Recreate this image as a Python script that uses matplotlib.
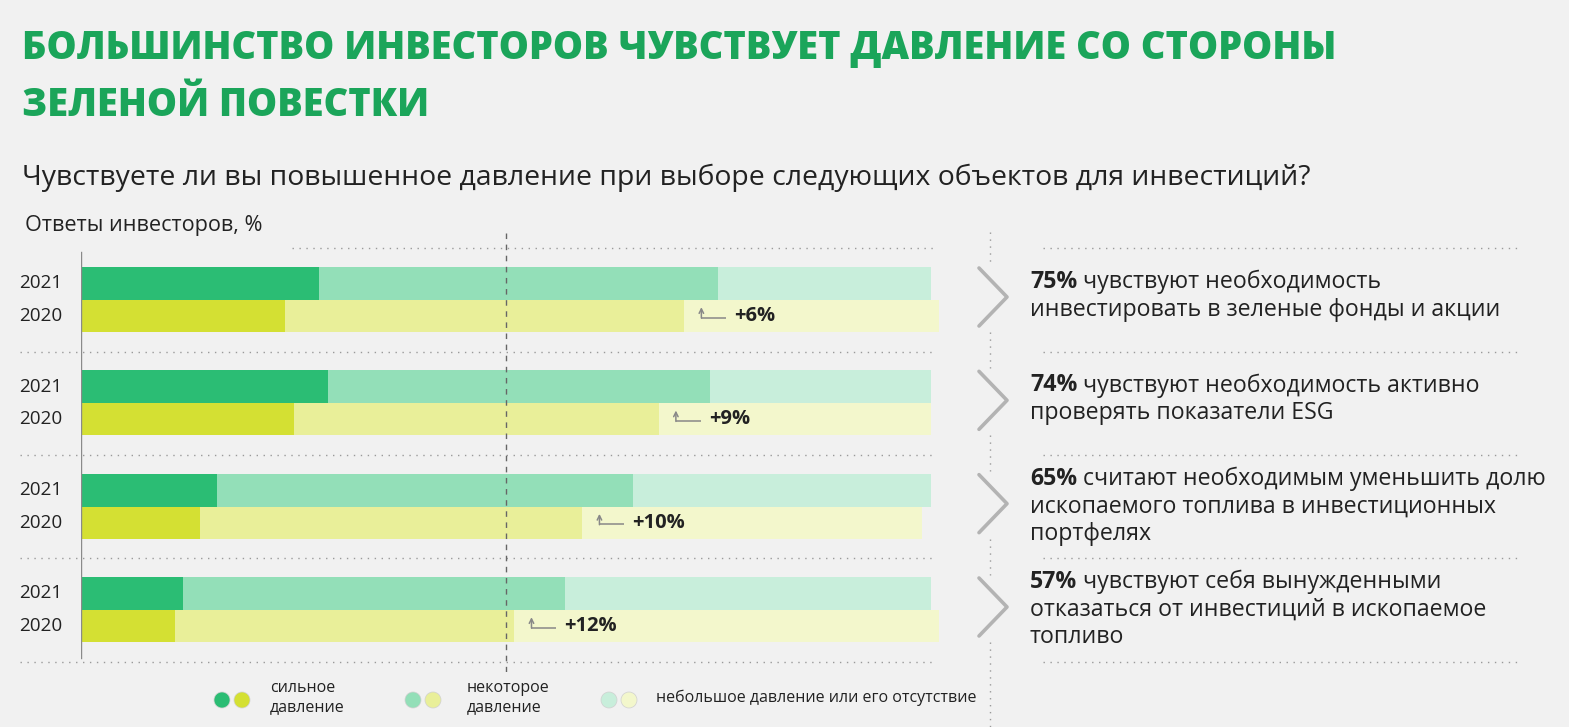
import matplotlib.pyplot as plt
from matplotlib.patches import Circle

plt.rcParams['font.family'] = ['Open Sans', 'DejaVu Sans']

W, H = 1569, 727

# data (% of investors)
years = ["2021", "2020"]
strong_2021 = [28, 29, 16, 12]
some_2021 = [47, 45, 49, 45]
little_2021 = [25, 26, 35, 43]
strong_2020 = [24, 25, 14, 11]
some_2020 = [47, 43, 45, 40]
little_2020 = [30, 32, 40, 50]
changes = ["+6%", "+9%", "+10%", "+12%"]

summary_pct = ["75%", "74%", "65%", "57%"]
summary_first = [" чувствуют необходимость",
                 " чувствуют необходимость активно",
                 " считают необходимым уменьшить долю",
                 " чувствуют себя вынужденными"]
summary_rest = [["инвестировать в зеленые фонды и акции"],
                ["проверять показатели ESG"],
                ["ископаемого топлива в инвестиционных", "портфелях"],
                ["отказаться от инвестиций в ископаемое", "топливо"]]

legend_labels = ["сильное\nдавление", "некоторое\nдавление",
                 "небольшое давление или его отсутствие"]

colors_2021 = ["#2bbd74", "#93dfb8", "#c8eedb"]
colors_2020 = ["#d4e033", "#e9ef99", "#f3f7cc"]
bg = "#f1f1f1"
green = "#1ba55a"
dark = "#222222"

fig = plt.figure(figsize=(W / 100, H / 100), dpi=100, facecolor=bg)

# overlay in pixel coordinates for decorations and text
ov = fig.add_axes([0, 0, 1, 1])
ov.set_xlim(0, W)
ov.set_ylim(H, 0)
ov.axis("off")

# main bar axes: x in %, y in row units (row spacing 103.3 px, centre of row 0 at 300 px)
def py(y):
    return 300 + 103.33 * y

ax = fig.add_axes([81.3 / W, (H - 672) / H, 849.4 / W, 439 / H])
ax.set_xlim(0, 100)
ax.set_ylim(3.6, -0.648)
ax.axis("off")
ax.patch.set_visible(False)

rows = range(len(strong_2021))
for i in rows:
    left = 0
    for val, c in zip([strong_2021[i], some_2021[i], little_2021[i]], colors_2021):
        ax.barh(i - 0.16, val, left=left, height=0.32, color=c, linewidth=0, clip_on=False)
        left += val
    left = 0
    for val, c in zip([strong_2020[i], some_2020[i], little_2020[i]], colors_2020):
        ax.barh(i + 0.155, val, left=left, height=0.31, color=c, linewidth=0, clip_on=False)
        left += val

    ax.text(-7.3, i - 0.16, years[0], ha="left", va="center", fontsize=13.6, color=dark)
    ax.text(-7.3, i + 0.155, years[1], ha="left", va="center", fontsize=13.6, color=dark)

    # change marker
    x0 = strong_2020[i] + some_2020[i] + 2.0
    yc = i + 0.17
    ax.plot([x0, x0 + 2.9], [yc, yc], color="#888888", lw=1.1, solid_capstyle="butt")
    ax.annotate("", xy=(x0, yc - 0.1), xytext=(x0, yc + 0.005),
                arrowprops=dict(arrowstyle="->", color="#888888", lw=1.1,
                                shrinkA=0, shrinkB=0, mutation_scale=8))
    ax.text(x0 + 3.9, i + 0.155, changes[i], ha="left", va="center",
            fontsize=14.5, fontweight="bold", color=dark)

# separators
dots = (0, (1, 4))
for k in range(5):
    y = k - 0.5
    x_start = 24.8 if k == 0 else -7.2
    ax.plot([x_start, 100.3], [y, y], color="#9a9a9a", lw=1, ls=dots, clip_on=False)
    ov.plot([1043, 1519], [py(y), py(y)], color="#9a9a9a", lw=1, ls=dots)

# axis line and 50% dashed line
ax.plot([0, 0], [-0.465, 3.465], color="#8a8a8a", lw=1)
ax.plot([50, 50], [-0.648, 3.6], color="#666666", lw=1, ls=(0, (4, 4)))

# right side: vertical dotted line broken by chevrons
segments = [(232, 262)]
for i in rows:
    c = py(i)
    segments.append((c + 32, c + 68))
segments[-1] = (py(3) + 32, H)
for a, b in segments:
    ov.plot([990, 990], [a, b], color="#9a9a9a", lw=1, ls=dots)

fig.canvas.draw()
renderer = fig.canvas.get_renderer()

for i in rows:
    c = py(i) - 3
    ov.plot([979, 1007, 979], [c - 29, c, c + 29], color="#b3b3b3", lw=2.6,
            solid_capstyle="round", solid_joinstyle="round")

    n = 1 + len(summary_rest[i])
    top = py(i) - 18 - 10 * (n - 2)
    t = ov.text(1030, top, summary_pct[i], ha="left", va="center", fontsize=16.7,
                fontweight="bold", color=dark)
    ext = t.get_window_extent(renderer=renderer)
    ov.text(ext.x1, top, summary_first[i], ha="left", va="center", fontsize=16.7, color=dark)
    for j, line in enumerate(summary_rest[i]):
        ov.text(1030, top + 27.5 * (j + 1), line, ha="left", va="center",
                fontsize=16.7, color=dark)

# titles
ov.text(22, 49, "БОЛЬШИНСТВО ИНВЕСТОРОВ ЧУВСТВУЕТ ДАВЛЕНИЕ СО СТОРОНЫ", ha="left",
        va="center", fontsize=27.4, fontweight="heavy", color=green)
ov.text(22, 105, "ЗЕЛЕНОЙ ПОВЕСТКИ", ha="left", va="center", fontsize=27.4,
        fontweight="heavy", color=green)
ov.text(22, 178, "Чувствуете ли вы повышенное давление при выборе следующих объектов для инвестиций?",
        ha="left", va="center", fontsize=20.4, color=dark)
ov.text(25, 225, "Ответы инвесторов, %", ha="left", va="center", fontsize=15.6, color=dark)

# legend
leg_x = [222, 413, 609]
text_x = [270, 467, 656]
for k in range(3):
    ov.add_patch(Circle((leg_x[k], 700), 8, facecolor=colors_2021[k], edgecolor="#d0d0d0", lw=0.5))
    ov.add_patch(Circle((leg_x[k] + 20, 700), 8, facecolor=colors_2020[k], edgecolor="#d0d0d0", lw=0.5))
    ov.text(text_x[k], 698, legend_labels[k], ha="left", va="center", fontsize=11.5,
            color=dark, linespacing=1.25)

fig.savefig("out.png", dpi=100, facecolor=bg)
